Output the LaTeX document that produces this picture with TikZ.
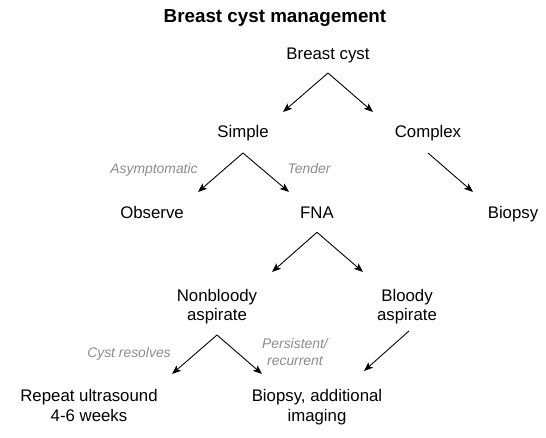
\documentclass[tikz,border=0pt]{standalone}
\usepackage{fontspec}
\setmainfont{Liberation Sans}
\usetikzlibrary{arrows.meta}
\tikzset{
  box/.style={anchor=base, inner sep=0pt, align=center, font=\fontsize{16.8}{19.5}\selectfont},
  lbl/.style={anchor=base, inner sep=0pt, align=center, text=gray!90, font=\fontsize{13.9}{17}\selectfont\itshape},
  ttl/.style={anchor=base, inner sep=0pt, font=\fontsize{18.8}{22}\selectfont\bfseries},
  arr/.style={line width=0.9pt, -{Stealth[length=9pt,width=7pt,inset=2pt]}}
}
\begin{document}
\begin{tikzpicture}[x=1pt,y=-1pt]
\useasboundingbox (0,0) rectangle (546,438);
% texts
\node[ttl] (title) at (275,22.7) {Breast cyst management};
\node[box] (bc) at (328,60) {Breast cyst};
\node[box] (simple) at (243,138) {Simple};
\node[box] (complex) at (428,138) {Complex};
\node[box] (observe) at (152,218.8) {Observe};
\node[box] (fna) at (317,218.8) {FNA};
\node[box] (biopsy) at (513,218.8) {Biopsy};
\node[box] (nonbloody) at (217,320.5) {Nonbloody\\aspirate};
\node[box] (bloody) at (407,320.5) {Bloody\\aspirate};
\node[box] (repeat) at (89,421.2) {Repeat ultrasound\\4-6 weeks};
\node[box] (biopsy2) at (317,421.2) {Biopsy, additional\\imaging};
% labels
\node[lbl] (asym) at (154,173.5) {Asymptomatic};
\node[lbl] (tender) at (309,173.5) {Tender};
\node[lbl] (resolves) at (129,357) {Cyst resolves};
\node[lbl] (persist) at (295,365) {Persistent/\\recurrent};
% connector end points
\coordinate (bcA) at (328,73);
\coordinate (simpleT) at (283,112);
\coordinate (complexT) at (373,112);
\coordinate (simpleA) at (243,153);
\coordinate (observeT) at (198,192);
\coordinate (fnaT) at (289,192);
\coordinate (complexA) at (428,153);
\coordinate (biopsyT) at (473,192);
\coordinate (fnaA) at (317,232.3);
\coordinate (nonbloodyT) at (272,272);
\coordinate (bloodyT) at (363,272);
\coordinate (nonbloodyA) at (217,335);
\coordinate (repeatT) at (172,374);
\coordinate (biopsyTwoT) at (262,374);
\coordinate (bloodyA) at (409,331);
\coordinate (biopsyTwoR) at (364,371);
% connectors
\draw[arr] (bcA) -- (simpleT);
\draw[arr] (bcA) -- (complexT);
\draw[arr] (simpleA) -- (observeT);
\draw[arr] (simpleA) -- (fnaT);
\draw[arr] (complexA) -- (biopsyT);
\draw[arr] (fnaA) -- (nonbloodyT);
\draw[arr] (fnaA) -- (bloodyT);
\draw[arr] (nonbloodyA) -- (repeatT);
\draw[arr] (nonbloodyA) -- (biopsyTwoT);
\draw[arr] (bloodyA) -- (biopsyTwoR);
\end{tikzpicture}
\end{document}
